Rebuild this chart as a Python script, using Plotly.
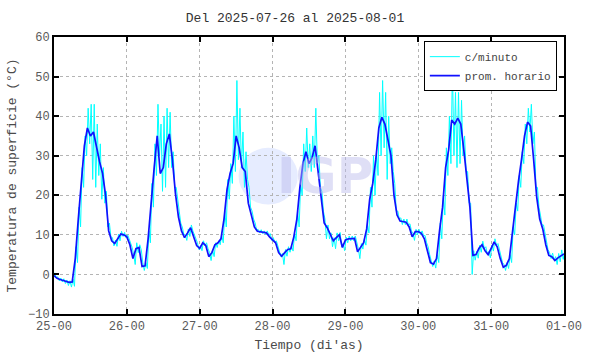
import plotly.graph_objects as go
import pandas as pd

title_text = "Del 2025-07-26 al 2025-08-01"
start_time = "2025-07-25 00:00"
tick_labels = ["25-00", "26-00", "27-00", "28-00", "29-00", "30-00", "31-00", "01-00"]
y_title = "Temperatura de superficie (°C)"
x_title = "Tiempo (di'as)"

# Hourly means (prom. horario), one value per hour, 00h..23h of each day
hourly_25 = [-0.3, -1.0, -1.3, -1.6, -1.9, -2.0, -1.9, 4, 14, 24, 32.5, 37, 35, 36, 32, 28.5, 25.5, 20, 11, 8.5, 7.8, 9, 10.2, 10]
hourly_26 = [9.5, 7.5, 4, 6.5, 6.8, 2, 2.2, 9, 19, 27, 35, 25.5, 27, 33, 35.5, 29, 20.5, 14.5, 11, 9.3, 10.5, 11.8, 9.5, 7.3]
hourly_27 = [6.6, 8, 7.3, 4.5, 5.5, 7.5, 8, 9, 14, 21.5, 25.5, 28, 35, 32, 27, 26, 18, 15, 12, 10.9, 10.8, 10.6, 10.5, 9.5]
hourly_28 = [8.7, 8, 5.5, 4.6, 5.5, 6.3, 6.5, 9.5, 14, 22, 28, 31, 28, 29.5, 32.5, 26, 19, 13, 11.8, 10, 8.5, 9.3, 10, 6.8]
hourly_29 = [8.7, 9, 9.1, 9.1, 5.7, 7, 8, 11.5, 19, 23, 29, 37, 39.7, 38, 34, 30, 20, 15, 13.5, 13.3, 13.2, 12, 9.5, 10.8]
hourly_30 = [10.8, 10.4, 9, 6, 3, 2.6, 4, 11, 17, 27, 31.5, 39, 38, 39.5, 38, 31.5, 24, 17, 4.8, 5, 6.6, 7.5, 6, 5]
hourly_31 = [6.6, 8.2, 7, 4, 1.8, 2.3, 4, 11, 17, 23.5, 29, 35, 38.5, 37.5, 29, 19.6, 14, 11.5, 7.5, 4.8, 4.5, 3.5, 4.2, 4.8]
hourly_end = 5.2

# Per-minute readings (c/minuto): highest and lowest reading seen within each hour
minute_max_25 = [0.4, -0.6, -0.9, -1.1, -1.4, -1.6, -1.2, 7, 17, 27, 35, 42, 43, 43, 38, 33, 27, 21, 13, 9.3, 8.7, 10.2, 10.9, 10.6]
minute_min_25 = [-0.9, -1.6, -1.9, -2.3, -2.8, -3.2, -3.0, 3, 12, 22, 30, 33, 24, 22, 25, 19, 18, 12, 9.5, 7.2, 7.1, 8.5, 9.6, 9.2]
minute_max_26 = [10, 8, 5, 8, 7.5, 3, 3, 11, 23, 33, 43, 38, 40, 42, 41, 31, 22, 16, 12, 10, 11.5, 12.5, 10, 8]
minute_min_26 = [9, 6.8, 2.5, 5.5, 6.2, 1, 1.5, 8, 17, 25, 30, 21, 22, 27, 27, 22, 18, 13, 10.2, 8.6, 9.6, 11, 8.7, 6.3]
minute_max_27 = [7.3, 8.5, 8, 5.5, 6.2, 8, 8.5, 10, 16, 24, 28, 40, 49, 42, 36, 31, 22, 16, 13, 11.4, 11.3, 11, 11, 10.3]
minute_min_27 = [6, 7.2, 6.5, 3.5, 4.5, 6.8, 7.5, 8, 12, 19, 23, 26, 29, 27, 22, 24, 17, 14, 11.2, 10.5, 10.3, 10.1, 10, 8.6]
minute_max_28 = [9.3, 8.5, 6, 5.3, 6.3, 7, 7.3, 10.5, 16, 23, 33, 37, 33, 35, 42, 30, 21, 14, 12.5, 10.5, 9.3, 10.5, 10.6, 7.8]
minute_min_28 = [8, 7.2, 4.5, 2.5, 4.6, 5.6, 5.9, 8.5, 12, 20, 26, 27, 26, 27, 28, 22, 16, 9, 9, 7, 6.5, 8.5, 7, 6]
minute_max_29 = [9.4, 9.7, 9.7, 9.7, 6.5, 7.8, 9, 12.5, 22, 30, 31, 46, 49, 46, 40, 32, 23, 16, 14.3, 14, 14, 12.8, 10.3, 11.4]
minute_min_29 = [8, 8.5, 8.5, 8.4, 4, 6.4, 7.4, 10.5, 17, 20, 25, 30, 32, 24, 28, 26, 16, 14, 12.6, 12.6, 12.5, 11, 8.6, 10]
minute_max_30 = [11.4, 11, 9.8, 7, 3.8, 3.4, 5, 13, 20, 32, 40, 52, 46, 46, 44, 35, 26, 18, 6, 5.8, 7.4, 8.4, 7, 5.8]
minute_min_30 = [10.1, 9.8, 8, 5, 2, 1.6, 3, 9, 15, 25, 28, 30, 27, 28, 30, 26, 18, 0, 3.6, 4.1, 5.6, 6.6, 5.1, 4.2]
minute_max_31 = [7.4, 9, 7.8, 4.8, 2.5, 3, 5, 12, 18, 25, 31, 38, 42, 43, 36, 22, 15, 12.5, 8.5, 5.5, 5.4, 4.5, 5.3, 6.2]
minute_min_31 = [5.9, 7.4, 6.2, 3, 1, 1.5, 3, 10, 16, 22, 28, 33, 36, 33, 22, 17, 12.5, 10, 6.2, 4, 3.6, 2.5, 3.2, 3.8]

hourly = (hourly_25 + hourly_26 + hourly_27 + hourly_28 + hourly_29 + hourly_30 + hourly_31 + [hourly_end])
minute_max = (minute_max_25 + minute_max_26 + minute_max_27 + minute_max_28 + minute_max_29 + minute_max_30 + minute_max_31)
minute_min = (minute_min_25 + minute_min_26 + minute_min_27 + minute_min_28 + minute_min_29 + minute_min_30 + minute_min_31)

t0 = pd.Timestamp(start_time)
x_hourly = [t0 + pd.Timedelta(hours=i) for i in range(len(hourly))]

x_min = [t0]
y_min = [hourly[0]]
for i in range(len(minute_max)):
    x_min.append(t0 + pd.Timedelta(minutes=60 * i + 15))
    y_min.append(minute_max[i])
    x_min.append(t0 + pd.Timedelta(minutes=60 * i + 45))
    y_min.append(minute_min[i])
x_min.append(x_hourly[-1])
y_min.append(hourly_end)

tick_vals = [t0 + pd.Timedelta(days=i) for i in range(len(tick_labels))]

FONT = "Liberation Mono, Courier New, monospace"

fig = go.Figure()
fig.add_trace(go.Scatter(x=x_min, y=y_min, mode="lines", name="c/minuto",
                         line=dict(color="rgb(0,255,255)", width=1)))
fig.add_trace(go.Scatter(x=x_hourly, y=hourly, mode="lines", name="prom. horario",
                         line=dict(color="#1010ff", width=1.7)))

axis_common = dict(showline=True, linecolor="black", linewidth=2, mirror="ticks",
                   ticks="inside", ticklen=5, tickwidth=1.5, tickcolor="black",
                   showgrid=True, gridcolor="#b4b4b4", griddash="dot", gridwidth=1,
                   zeroline=False, automargin=False,
                   tickfont=dict(family=FONT, size=12, color="#5a5a5a"))

fig.update_xaxes(type="date", range=[tick_vals[0], tick_vals[-1]],
                 tickmode="array", tickvals=tick_vals, ticktext=tick_labels,
                 title=dict(text=x_title, font=dict(family=FONT, size=13, color="#4a4a4a"), standoff=6),
                 **axis_common)
fig.update_yaxes(range=[-10, 60], tickmode="linear", tick0=-10, dtick=10,
                 title=dict(text=y_title, font=dict(family=FONT, size=13, color="#4a4a4a"), standoff=8),
                 **axis_common)

# IGP watermark (decoration)
fig.add_shape(type="circle", xref="paper", yref="paper", x0=0.362, x1=0.478, y0=0.395, y1=0.6,
              fillcolor="rgba(205,218,255,0.5)", line=dict(width=0), layer="below")
fig.add_annotation(text="<b>IGP</b>", xref="paper", yref="paper", x=0.532, y=0.5,
                   showarrow=False,
                   font=dict(family="DejaVu Sans, Arial", size=50, color="rgba(185,185,235,0.45)"))

fig.update_layout(
    width=590, height=354,
    margin=dict(l=54, r=26, t=37, b=40),
    paper_bgcolor="white", plot_bgcolor="white",
    title=dict(text=title_text, x=0.5, xanchor="center", y=0.95, yanchor="middle",
               yref="container", font=dict(family=FONT, size=13, color="#333333")),
    showlegend=True,
    legend=dict(x=0.986, xanchor="right", y=0.985, yanchor="top",
                bgcolor="white", bordercolor="black", borderwidth=1,
                font=dict(family=FONT, size=11, color="#444444"),
                tracegroupgap=0, itemwidth=30),
)

fig.write_html("out.html")
